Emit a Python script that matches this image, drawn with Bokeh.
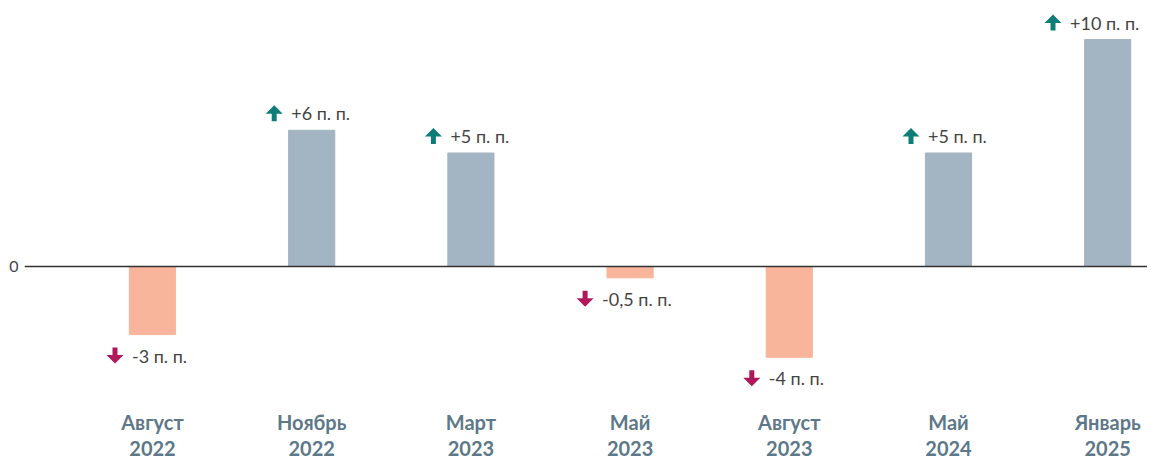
from bokeh.plotting import figure
from bokeh.models import ColumnDataSource, FixedTicker, Span, Range1d
from bokeh.core.properties import value
from bokeh.embed import file_html
from bokeh.resources import INLINE

# ---- data ----
categories = ["Август\n2022", "Ноябрь\n2022", "Март\n2023", "Май\n2023",
              "Август\n2023", "Май\n2024", "Январь\n2025"]
values = [-3, 6, 5, -0.5, -4, 5, 10]
labels = ["-3 п. п.", "+6 п. п.", "+5 п. п.", "-0,5 п. п.", "-4 п. п.", "+5 п. п.", "+10 п. п."]

# ---- styles ----
POS_COLOR = "#a3b4c2"
NEG_COLOR = "#f9b59b"
UP_COLOR = "#0e7d78"
DOWN_COLOR = "#b0185c"
FONT = "Lato"

FRAME_W, FRAME_H = 1123, 380
X0, X1 = -0.804, 6.25
Y1 = 11.366
Y0 = Y1 - FRAME_H / 22.7
PXX = FRAME_W / (X1 - X0)   # px per x unit
PXY = FRAME_H / (Y1 - Y0)   # px per y unit

xs = list(range(len(values)))

p = figure(frame_width=FRAME_W, frame_height=FRAME_H,
           x_range=Range1d(X0, X1), y_range=Range1d(Y0, Y1),
           output_backend="svg", toolbar_location=None,
           min_border_left=24, min_border_right=0, min_border_top=8, min_border_bottom=0)
p.outline_line_color = None
p.grid.visible = False
p.background_fill_color = "white"

colors = [POS_COLOR if v >= 0 else NEG_COLOR for v in values]
src = ColumnDataSource(dict(x=xs, top=values, color=colors))
p.vbar(x="x", top="top", bottom=0, width=0.29, color="color", source=src)

p.add_layout(Span(location=0, dimension="width", line_color="#333333", line_width=1.5))

# annotations
tx, ty, ax_patches_x, ax_patches_y, acolors = [], [], [], [], []
frame_right_px = FRAME_W
for i, (v, lab) in enumerate(zip(values, labels)):
    cx_px = (i - X0) * PXX
    w = 7.5 * len(lab)
    text_left = -3 - (25 + w) / 2 + 25
    if cx_px + text_left + w > frame_right_px - 10:
        text_left = frame_right_px - 10 - w - cx_px
    y_px_off = 17 if v >= 0 else -21
    ylab = v + y_px_off / PXY
    tx.append(i + text_left / PXX)
    ty.append(ylab)
    acx = i + (text_left - 17) / PXX
    if v >= 0:
        pts = [(-8.5, -0.5), (0, 8), (8.5, -0.5), (2.5, -0.5), (2.5, -8), (-2.5, -8), (-2.5, -0.5)]
        acolors.append(UP_COLOR)
    else:
        pts = [(-8.5, 0.5), (0, -8), (8.5, 0.5), (2.5, 0.5), (2.5, 8), (-2.5, 8), (-2.5, 0.5)]
        acolors.append(DOWN_COLOR)
    ax_patches_x.append([acx + dx / PXX for dx, dy in pts])
    ax_patches_y.append([ylab + dy / PXY for dx, dy in pts])

p.patches(xs=ax_patches_x, ys=ax_patches_y, color=acolors, line_width=0)
p.text(x=tx, y=ty, text=labels, text_font=value(FONT), text_font_size="18px",
       text_color="#444444", text_align="left", text_baseline="middle")

# axes
xa = p.xaxis[0]
xa.ticker = FixedTicker(ticks=xs)
xa.major_label_overrides = {i: c for i, c in enumerate(categories)}
xa.axis_line_color = None
xa.major_tick_line_color = None
xa.minor_tick_line_color = None
xa.major_label_text_font = FONT
xa.major_label_text_font_style = "bold"
xa.major_label_text_font_size = "20px"
xa.major_label_text_color = "#5d7889"
xa.major_label_text_line_height = 1.1
xa.major_label_standoff = 15

ya = p.yaxis[0]
ya.ticker = FixedTicker(ticks=[0])
ya.axis_line_color = None
ya.major_tick_line_color = None
ya.minor_tick_line_color = None
ya.major_label_text_font = FONT
ya.major_label_text_font_size = "16px"
ya.major_label_text_color = "#444444"
ya.major_label_standoff = 0

open("out.html", "w").write(file_html(p, INLINE))
